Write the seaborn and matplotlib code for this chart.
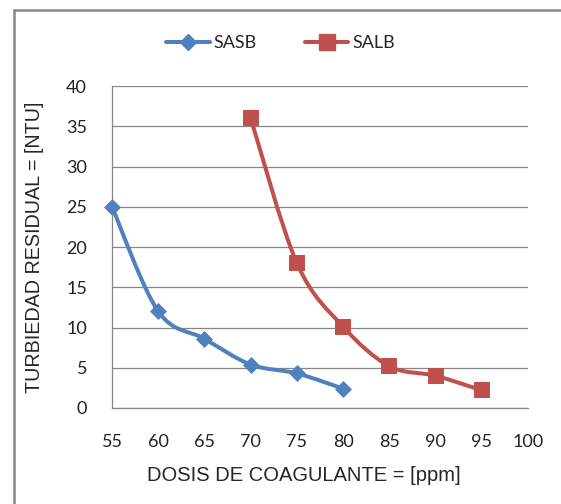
import numpy as np
import pandas as pd
import matplotlib
matplotlib.use("Agg")
import matplotlib.pyplot as plt
from matplotlib.path import Path
from matplotlib.patches import PathPatch
from matplotlib.lines import Line2D
import seaborn as sns

# data
sasb_dose = [55, 60, 65, 70, 75, 80]
sasb_turb = [25.0, 12.0, 8.6, 5.4, 4.3, 2.4]
salb_dose = [70, 75, 80, 85, 90, 95]
salb_turb = [36.0, 18.0, 10.1, 5.2, 4.0, 2.2]

BLUE = "#4F81BD"
RED = "#C0504D"

sns.set_style("white")
plt.rcParams['font.family'] = ['Liberation Sans', 'DejaVu Sans']


def smooth_path(xs, ys):
    # Excel-like smoothed line: cubic bezier segments through the points
    pts = np.column_stack([xs, ys]).astype(float)
    n = len(pts)
    verts = [pts[0]]
    codes = [Path.MOVETO]
    for i in range(n - 1):
        p0 = pts[i - 1] if i > 0 else pts[i]
        p1 = pts[i]
        p2 = pts[i + 1]
        p3 = pts[i + 2] if i + 2 < n else pts[i + 1]
        c1 = p1 + (p2 - p0) / 6.0
        c2 = p2 - (p3 - p1) / 6.0
        verts += [c1, c2, p2]
        codes += [Path.CURVE4] * 3
    return Path(verts, codes)


fig = plt.figure(figsize=(5.61, 5.04), dpi=100)
# chart-area frame: only the top and left edges fall inside the picture
x0, y0 = 13.5 / 561, 1 - 9.5 / 504
fig.add_artist(Line2D([x0, 1.0], [y0, y0], transform=fig.transFigure,
                      color="#868686", linewidth=1.8))
fig.add_artist(Line2D([x0, x0], [0.0, y0], transform=fig.transFigure,
                      color="#868686", linewidth=1.8))

ax = fig.add_axes([112 / 561, 1 - 408 / 504, (528 - 112) / 561, (408 - 86) / 504])

df_a = pd.DataFrame({"dose": sasb_dose, "turb": sasb_turb})
df_b = pd.DataFrame({"dose": salb_dose, "turb": salb_turb})

ax.add_patch(PathPatch(smooth_path(sasb_dose, sasb_turb), fill=False,
                       edgecolor=BLUE, linewidth=2.9, capstyle="round", zorder=3,
                       clip_on=False))
ax.add_patch(PathPatch(smooth_path(salb_dose, salb_turb), fill=False,
                       edgecolor=RED, linewidth=2.9, capstyle="round", zorder=3,
                       clip_on=False))
sns.scatterplot(data=df_a, x="dose", y="turb", marker="D", s=75, color=BLUE,
                edgecolor=BLUE, linewidth=0, ax=ax, zorder=4, clip_on=False)
sns.scatterplot(data=df_b, x="dose", y="turb", marker="s", s=135, color=RED,
                edgecolor=RED, linewidth=0, ax=ax, zorder=4, clip_on=False)

ax.set_xlim(55, 100)
ax.set_ylim(0, 40)
ax.set_xticks(range(55, 101, 5))
ax.set_yticks(range(0, 41, 5))
ax.grid(axis="y", color="#868686", linewidth=0.9)
ax.grid(axis="x", visible=False)
for side in ["top", "right"]:
    ax.spines[side].set_visible(False)
for side in ["left", "bottom"]:
    ax.spines[side].set_color("#868686")
    ax.spines[side].set_linewidth(0.9)
ax.tick_params(axis="both", direction="out", length=5, width=0.9, color="#868686",
               labelsize=13, labelcolor="#222222")
ax.tick_params(axis="x", pad=14)
ax.tick_params(axis="y", pad=13)
for lab in ax.get_xticklabels() + ax.get_yticklabels():
    lab.set_family(["Lato", "DejaVu Sans"])

ax.set_xlabel("DOSIS DE COAGULANTE = [ppm]", fontsize=14.5)
ax.set_ylabel("TURBIEDAD RESIDUAL = [NTU]", fontsize=14.2)
ax.xaxis.set_label_coords((304 - 112) / (528 - 112), -(466 - 408) / (408 - 86),
                          transform=ax.transAxes)
ax.yaxis.set_label_coords(-(112 - 44) / (528 - 112), 0.5, transform=ax.transAxes)

handles = [Line2D([], [], color=BLUE, linewidth=2.9, marker="D", markersize=8.5),
           Line2D([], [], color=RED, linewidth=2.9, marker="s", markersize=11)]
fig.legend(handles, ["SASB", "SALB"], loc="center", bbox_to_anchor=(0.5, 1 - 43 / 504),
           ncol=2, frameon=False, handlelength=2.4, columnspacing=2.7,
           handletextpad=0.2, prop={"family": ["Lato", "DejaVu Sans"], "size": 13})

fig.savefig("out.png", dpi=100)
